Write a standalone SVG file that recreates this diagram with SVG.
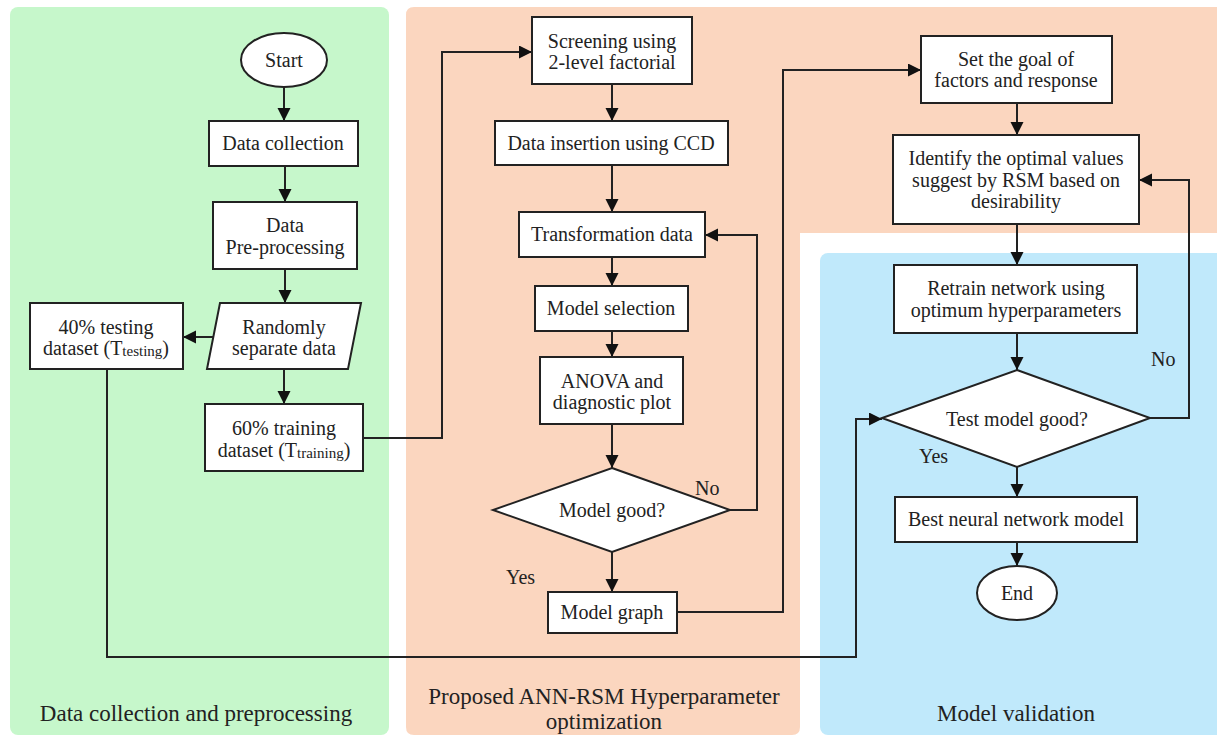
<svg xmlns="http://www.w3.org/2000/svg" width="1217" height="738" viewBox="0 0 1217 738">
<style>
.box{fill:#fff;stroke:#222;stroke-width:2}
.t{font-family:"Liberation Serif","Times New Roman",serif;font-size:20px;fill:#222;text-anchor:middle}
.lbl{font-family:"Liberation Serif","Times New Roman",serif;font-size:20px;fill:#222}
.pl{font-family:"Liberation Serif","Times New Roman",serif;font-size:23px;fill:#222;text-anchor:middle}
.sub{font-size:15px}
.c{fill:none;stroke:#222;stroke-width:2}
</style>
<defs>
<marker id="ah" markerUnits="userSpaceOnUse" markerWidth="14" markerHeight="14" refX="13" refY="6.5" orient="auto">
<path d="M0,0 L13,6.5 L0,13 z" fill="#111"/>
</marker>
</defs>
<rect width="1217" height="738" fill="#fff"/>
<g id="panels">
<rect x="10" y="7" width="379" height="728" rx="8" fill="#c6f7cb"/>
<path d="M406,15 Q406,7 414,7 H1217 V233 H800 V727 Q800,735 792,735 H414 Q406,735 406,727 Z" fill="#fbd6bf"/>
<rect x="820" y="253" width="405" height="482" rx="8" fill="#c0e9fb"/>
<text class="pl" x="196" y="721">Data collection and preprocessing</text>
<text class="pl" x="604" y="704">Proposed ANN-RSM Hyperparameter</text>
<text class="pl" x="604" y="729">optimization</text>
<text class="pl" x="1016" y="721">Model validation</text>
</g>
<g id="connectors">
<path class="c" d="M284,87 V121" marker-end="url(#ah)"/>
<path class="c" d="M285,166 V202" marker-end="url(#ah)"/>
<path class="c" d="M285,269 V303" marker-end="url(#ah)"/>
<path class="c" d="M214,337 H183" marker-end="url(#ah)"/>
<path class="c" d="M284,369 V404" marker-end="url(#ah)"/>
<path class="c" d="M363,438 H442 V52 H532" marker-end="url(#ah)"/>
<path class="c" d="M612,84 V121" marker-end="url(#ah)"/>
<path class="c" d="M612,165 V212" marker-end="url(#ah)"/>
<path class="c" d="M612,257 V286" marker-end="url(#ah)"/>
<path class="c" d="M612,331 V357" marker-end="url(#ah)"/>
<path class="c" d="M612,424 V468" marker-end="url(#ah)"/>
<path class="c" d="M730,510 H757 V235 H705" marker-end="url(#ah)"/>
<path class="c" d="M612,552 V592" marker-end="url(#ah)"/>
<path class="c" d="M677,612 H783 V70 H921" marker-end="url(#ah)"/>
<path class="c" d="M1017,103 V135" marker-end="url(#ah)"/>
<path class="c" d="M1017,224 V265" marker-end="url(#ah)"/>
<path class="c" d="M1017,333 V370" marker-end="url(#ah)"/>
<path class="c" d="M1150,418 H1189 V180 H1139" marker-end="url(#ah)"/>
<path class="c" d="M107,369 V657 H856 V419 H882" marker-end="url(#ah)"/>
<path class="c" d="M1017,467 V497" marker-end="url(#ah)"/>
<path class="c" d="M1017,542 V566" marker-end="url(#ah)"/>
<text class="lbl" x="695" y="495">No</text>
<text class="lbl" x="506" y="584">Yes</text>
<text class="lbl" x="1151" y="366">No</text>
<text class="lbl" x="919" y="463">Yes</text>
</g>
<g id="start"><ellipse class="box" cx="284" cy="60" rx="43" ry="27"/><text class="t" x="284" y="67">Start</text></g>
<g id="data-collection"><rect class="box" x="209" y="121" width="149" height="45"/><text class="t" x="283" y="150">Data collection</text></g>
<g id="preprocessing"><rect class="box" x="213" y="202" width="144" height="67"/><text class="t" x="285" y="232">Data</text><text class="t" x="285" y="254">Pre-processing</text></g>
<g id="separate"><polygon class="box" points="220,303 361,303 348,369 207,369"/><text class="t" x="284" y="334">Randomly</text><text class="t" x="284" y="355">separate data</text></g>
<g id="testing"><rect class="box" x="30" y="303" width="153" height="66"/><text class="t" x="106" y="334">40% testing</text><text class="t" x="106" y="355">dataset (T<tspan class="sub" dy="1">testing</tspan><tspan dy="-1">)</tspan></text></g>
<g id="training"><rect class="box" x="205" y="404" width="158" height="67"/><text class="t" x="284" y="435">60% training</text><text class="t" x="284" y="457">dataset (T<tspan class="sub" dy="1">training</tspan><tspan dy="-1">)</tspan></text></g>
<g id="screening"><rect class="box" x="532" y="17" width="160" height="67"/><text class="t" x="612" y="48">Screening using</text><text class="t" x="612" y="69">2-level factorial</text></g>
<g id="ccd"><rect class="box" x="495" y="121" width="233" height="44"/><text class="t" x="611" y="150">Data insertion using CCD</text></g>
<g id="transformation"><rect class="box" x="519" y="212" width="186" height="45"/><text class="t" x="612" y="241">Transformation data</text></g>
<g id="model-selection"><rect class="box" x="535" y="286" width="153" height="45"/><text class="t" x="611" y="315">Model selection</text></g>
<g id="anova"><rect class="box" x="540" y="357" width="143" height="67"/><text class="t" x="612" y="388">ANOVA and</text><text class="t" x="612" y="409">diagnostic plot</text></g>
<g id="model-good"><polygon class="box" points="612,468 730,510 612,552 493,510"/><text class="t" x="612" y="517">Model good?</text></g>
<g id="model-graph"><rect class="box" x="548" y="592" width="129" height="41"/><text class="t" x="612" y="619">Model graph</text></g>
<g id="set-goal"><rect class="box" x="921" y="36" width="191" height="67"/><text class="t" x="1016" y="66">Set the goal of</text><text class="t" x="1016" y="87">factors and response</text></g>
<g id="identify"><rect class="box" x="893" y="135" width="246" height="89"/><text class="t" x="1016" y="165">Identify the optimal values</text><text class="t" x="1016" y="187">suggest by RSM based on</text><text class="t" x="1016" y="208">desirability</text></g>
<g id="retrain"><rect class="box" x="894" y="265" width="243" height="68"/><text class="t" x="1016" y="295">Retrain network using</text><text class="t" x="1016" y="317">optimum hyperparameters</text></g>
<g id="test-good"><polygon class="box" points="1017,370 1150,418 1017,467 882,418"/><text class="t" x="1017" y="426">Test model good?</text></g>
<g id="best"><rect class="box" x="895" y="497" width="242" height="45"/><text class="t" x="1016" y="526">Best neural network model</text></g>
<g id="end"><ellipse class="box" cx="1017" cy="593" rx="40" ry="27"/><text class="t" x="1017" y="600">End</text></g>
</svg>
